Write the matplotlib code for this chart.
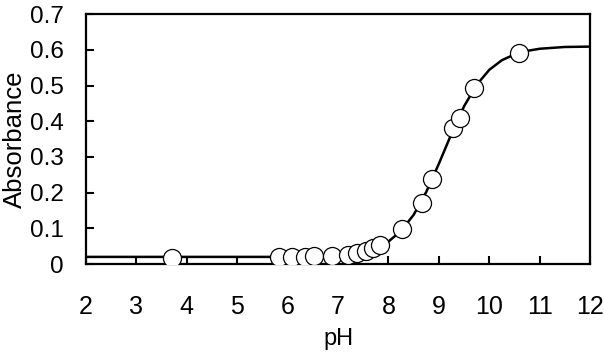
import matplotlib
matplotlib.use('Agg')
import matplotlib.pyplot as plt

# measured points (pH, absorbance)
ph_pts = [3.71, 5.82, 6.08, 6.35, 6.53, 6.87, 7.2, 7.38, 7.56, 7.70, 7.83,
          8.26, 8.66, 8.87, 9.29, 9.42, 9.70, 10.58]
abs_pts = [0.018, 0.020, 0.020, 0.021, 0.022, 0.022, 0.026, 0.030, 0.036, 0.044, 0.053,
           0.097, 0.172, 0.238, 0.380, 0.408, 0.492, 0.592]

# fitted curve
ph_fit = [2.0, 6.0, 7.0, 7.5, 7.75, 8.0, 8.25, 8.5, 8.75, 9.0, 9.25, 9.5,
          9.75, 10.0, 10.25, 10.5, 10.75, 11.0, 11.5, 12.0]
abs_fit = [0.020, 0.020, 0.025, 0.034, 0.045, 0.063, 0.093, 0.138, 0.202, 0.281,
           0.365, 0.442, 0.502, 0.544, 0.571, 0.587, 0.597, 0.603, 0.608, 0.609]

x_ticks = [2, 3, 4, 5, 6, 7, 8, 9, 10, 11, 12]
y_ticks = [0, 0.1, 0.2, 0.3, 0.4, 0.5, 0.6, 0.7]
y_labels = ['0', '0.1', '0.2', '0.3', '0.4', '0.5', '0.6', '0.7']

plt.rcParams['font.family'] = ['Liberation Sans', 'DejaVu Sans']

fig = plt.figure(figsize=(6.04, 3.53), dpi=100)
ax = fig.add_axes([0.1424, 0.252, 0.8346, 0.708])

ax.plot(ph_fit, abs_fit, '-', color='black', lw=1.8, zorder=2)
ax.plot(ph_pts, abs_pts, 'o', ms=13, mfc='white', mec='black', mew=0.9, zorder=3)

ax.set_xlim(2, 12)
ax.set_ylim(0, 0.7)
ax.set_xticks(x_ticks)
ax.set_yticks(y_ticks)
ax.set_yticklabels(y_labels)
ax.tick_params(direction='in', length=6, width=1.5, labelsize=17.5)
ax.tick_params(axis='x', pad=22, labelsize=18)
ax.tick_params(axis='y', pad=16)
for s in ax.spines.values():
    s.set_linewidth(1.6)

ax.set_xlabel('pH', fontsize=17, labelpad=7)
ax.set_ylabel('Absorbance', fontsize=18.5, labelpad=2)

fig.savefig('out.png', dpi=100)
